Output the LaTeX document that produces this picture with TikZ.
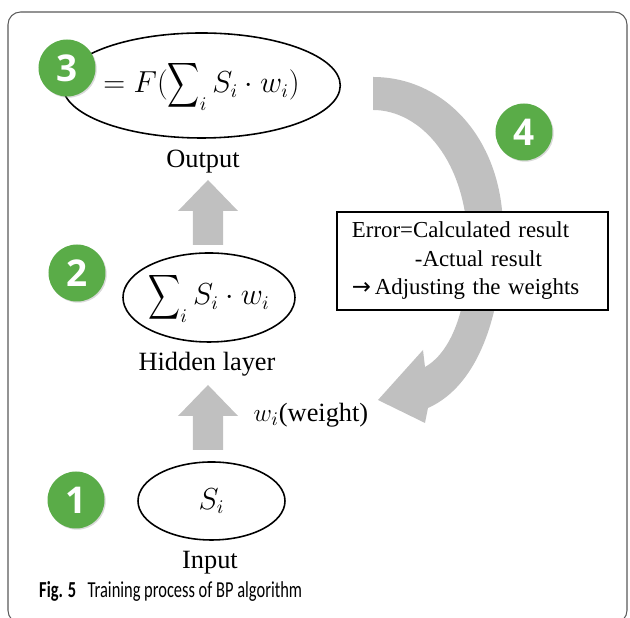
\documentclass[tikz,border=0pt]{standalone}
\usepackage{fontspec}
\usepackage{graphicx}
\setmainfont{Liberation Serif}
\newfontfamily\capfont[FakeStretch=0.72]{Carlito}
\newfontfamily\numfont{Open Sans}
\newfontfamily\symfont{DejaVu Sans}
\usetikzlibrary{positioning,shapes.geometric,shadows}

\definecolor{stagegreen}{RGB}{90,172,72}
\definecolor{flowgray}{RGB}{192,192,192}

% a tall summation sign, centred on the math axis
\newcommand{\bigsum}{\mathop{\vcenter{\hbox{\resizebox*{0.64cm}{1.0cm}{$\displaystyle\sum$}}}}\nolimits}

\tikzset{
    stage/.style = {circle, fill = stagegreen, text = white, minimum size = 1.14cm, inner sep = 0pt,
        font = \numfont\bfseries\fontsize{21}{21}\selectfont,
        drop shadow = {shadow xshift = 0.7pt, shadow yshift = -0.7pt, opacity = 0.3}},
    neuron/.style = {ellipse, draw, line width = 0.9pt, inner sep = 0pt, font = \fontsize{16}{19}\selectfont},
    layername/.style = {font = \fontsize{15}{18}\selectfont},
    errbox/.style = {draw, fill = white, line width = 0.9pt, text width = 4.82cm, inner xsep = 0.3cm,
        minimum height = 1.96cm, align = left, font = \fontsize{13}{16.2}\selectfont}
}

\begin{document}
\begin{tikzpicture}
    \useasboundingbox (0,0) rectangle (12.6,12.36);
    \draw[black!65, line width = 0.6pt, rounded corners = 0.25cm] (0.16,-0.1) rectangle (12.54,12.12);

    % the three layers
    \node[neuron, minimum width = 4.34cm, minimum height = 2.1cm] (out) at (4.03,10.65) {$=F(\bigsum_i S_i\cdot w_i)$};
    \node[layername] (outname) at (4.06,9.12) {Output};
    \node[neuron, minimum width = 3.44cm, minimum height = 1.78cm] (hid) at (4.18,6.41) {$\bigsum_i S_i\cdot w_i$};
    \node[layername] (hidname) at (4.14,5.08) {Hidden layer};
    \node[neuron, minimum width = 2.94cm, minimum height = 1.56cm] (inp) at (4.23,2.34) {$S_i$};
    \node[layername] (inpname) at (4.2,1.1) {Input};
    \node[layername] (wt) at (6.22,4.06) {$w_i$(weight)};

    % forward block arrows
    \coordinate (fw1) at (4.16,7.46);
    \coordinate (fw2) at (4.16,3.36);
    \foreach \c in {fw1,fw2}
        \fill[flowgray] (\c) ++(-0.3,0) -- ++(0,0.68) -- ++(-0.3,0) -- ++(0.6,0.62)
            -- ++(0.6,-0.62) -- ++(-0.3,0) -- ++(0,-0.68) -- cycle;

    % feedback arrow
    \fill[flowgray] (7.46,10.82) .. controls (8.9,10.82) and (10.06,9.56) .. (10.06,7.76)
        .. controls (10.06,6.16) and (9.6,4.66) .. (8.56,4.2)
        -- (8.5,3.9) -- (7.56,4.36) -- (8.46,5.36) -- (8.5,5.02)
        .. controls (9.1,5.36) and (9.36,6.36) .. (9.36,7.36)
        .. controls (9.36,9.16) and (8.4,10.16) .. (7.46,10.16) -- cycle;
    \node[errbox] (err) at (9.45,7.14) {Error=Calculated result\\\hspace*{1.26cm}-Actual result\\{\symfont\char"2192}\,Adjusting the weights};

    % step numbers
    \node[stage] (s1) at (1.52,2.36) {1};
    \node[stage] (s2) at (1.54,6.9) {2};
    \node[stage] (s3) at (1.34,11.0) {3};
    \node[stage] (s4) at (10.48,9.72) {4};

    \node[anchor = base west, font = \capfont\fontsize{13}{15}\selectfont] (cap) at (0.66,0.4)
        {\textbf{Fig. 5}\hspace{0.5em}Training process of BP algorithm};
\end{tikzpicture}
\end{document}
